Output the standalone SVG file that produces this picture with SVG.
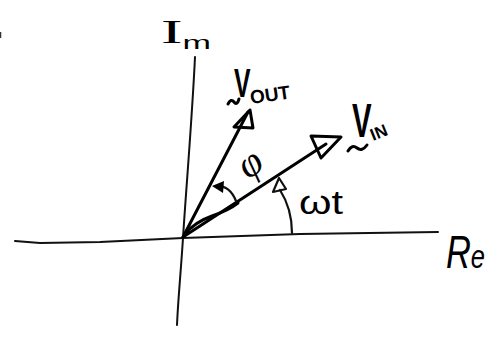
<svg xmlns="http://www.w3.org/2000/svg" width="504" height="342" viewBox="0 0 504 342">
<style>
.ax{fill:none;stroke:#111;stroke-width:2;stroke-linecap:round;stroke-linejoin:round}
.vec{fill:none;stroke:#000;stroke-width:3;stroke-linecap:round;stroke-linejoin:round}
.arc{fill:none;stroke:#111;stroke-width:2.2;stroke-linecap:round;stroke-linejoin:round}
.lbl{font-family:"Liberation Sans",Arial,sans-serif;fill:#000}
.ser{font-family:"Liberation Serif","Times New Roman",serif;fill:#000}
</style>
<rect width="504" height="342" fill="#fff"/>
<line x1="0.5" y1="32" x2="0.5" y2="38" stroke="#333" stroke-width="1.5"/>
<g id="axes">
<path class="ax" d="M195,57 C192,120 186,190 183,238 C181,270 178,300 177,325"/>
<path class="ax" d="M15,241 L40,243 L100,242 L183,238 L300,234 L438,232"/>
</g>
<g id="connectors">
<path class="vec" d="M183,237 L248,112"/>
<path class="vec" stroke-width="4.5" d="M250,110 L234,127 L253,128 Z"/>
<path class="vec" d="M183,237 L326,144"/>
<path class="vec" stroke-width="1.6" d="M185,234 Q195,222 212,216 T238,203"/>
<path class="vec" stroke-width="2.5" d="M311,136 L341,137 L321,158 Z"/>
<path class="arc" d="M215,186 C225,185 232,191 236,201"/>
<path d="M212,186 L224,181 L223,193 Z" fill="#000"/>
<path class="arc" d="M292,233 C292,215 287,201 280,190"/>
<path class="arc" d="M279,178 L273,192 L286,189 Z"/>
</g>
<g id="label-im">
<text class="ser" transform="translate(161,43) scale(1.9,1)" font-size="34">I<tspan font-size="18" dy="6" font-family="Liberation Sans">m</tspan></text>
</g>
<g id="label-vout">
<path class="vec" stroke-width="2" d="M228,104 Q231,98 234,102 Q237,106 239,99"/>
<text class="lbl" transform="translate(234,97) scale(0.62,1)" font-size="40" font-weight="bold">V</text>
<text class="lbl" transform="translate(251,104) rotate(-8)" font-size="19" font-weight="bold">OUT</text>
</g>
<g id="label-vin">
<path class="vec" stroke-width="2" d="M348,151 Q352,144 357,148 Q362,152 367,145"/>
<text class="lbl" transform="translate(352,137) scale(0.6,1)" font-size="49" font-weight="bold">V</text>
<text class="lbl" transform="translate(373,141) rotate(-22)" font-size="17" font-weight="bold">IN</text>
</g>
<g id="label-phi">
<text class="ser" transform="translate(248,180) rotate(-35)" font-size="40" font-style="italic">φ</text>
</g>
<g id="label-wt">
<text class="lbl" x="299" y="214" font-size="34" textLength="44" lengthAdjust="spacingAndGlyphs">ωt</text>
</g>
<g id="label-re">
<text class="lbl" transform="translate(446,268) scale(0.75,1)" font-size="46" font-style="italic">R<tspan x="33" font-size="34">e</tspan></text>
</g>
</svg>
